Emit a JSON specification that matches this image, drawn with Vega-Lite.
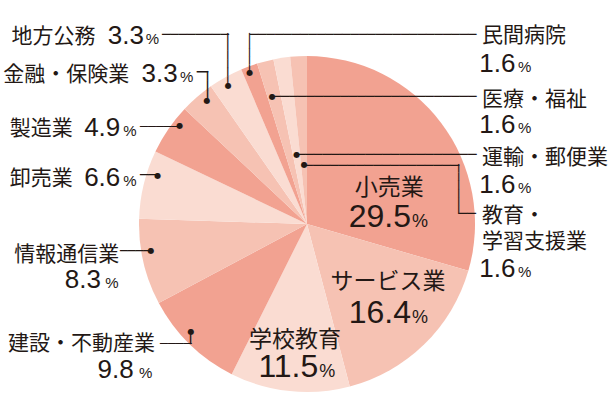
{
"$schema": "https://vega.github.io/schema/vega-lite/v6.json",
"width": 336, "height": 336,
"autosize": {"type": "none"},
"padding": {"left": 139, "top": 56, "right": 140, "bottom": 5},
"background": "white",
"config": {"view": {"stroke": null}, "text": {"color": "#231815"}},
"data": {"values": [
{"i": 1, "name": "小売業", "share": 29.5},
{"i": 2, "name": "サービス業", "share": 16.4},
{"i": 3, "name": "学校教育", "share": 11.5},
{"i": 4, "name": "建設・不動産業", "share": 9.8},
{"i": 5, "name": "情報通信業", "share": 8.3},
{"i": 6, "name": "卸売業", "share": 6.6},
{"i": 7, "name": "製造業", "share": 4.9},
{"i": 8, "name": "金融・保険業", "share": 3.3},
{"i": 9, "name": "地方公務", "share": 3.3},
{"i": 10, "name": "民間病院", "share": 1.6},
{"i": 11, "name": "医療・福祉", "share": 1.6},
{"i": 12, "name": "運輸・郵便業", "share": 1.6},
{"i": 13, "name": "教育・\n学習支援業", "share": 1.6}
]},
"encoding": {
"theta": {"field": "share", "type": "quantitative", "stack": true},
"order": {"field": "i", "type": "quantitative"}
},
"layer": [
{"mark": {"type": "arc", "outerRadius": 168}, "encoding": {"color": {"field": "name", "type": "nominal", "legend": null, "scale": {"domain": ["小売業","サービス業","学校教育","建設・不動産業","情報通信業","卸売業","製造業","金融・保険業","地方公務","民間病院","医療・福祉","運輸・郵便業","教育・\n学習支援業"], "range": ["#F2A291","#F6C2B3","#FADCD2","#F2A291","#F6C2B3","#FADCD2","#F2A291","#F6C2B3","#FADCD2","#F2A291","#F6C2B3","#FADCD2","#F6C2B3"]}}}},

{"mark": {"type": "text", "radius": 100, "dx": 2.23, "dy": 31.24, "align": "center", "baseline": "alphabetic", "font": "Noto Sans CJK JP", "fontSize": 23}, "encoding": {"text": {"condition": {"test": "datum.i == 1", "field": "name", "type": "nominal"}, "value": ""}}},
{"mark": {"type": "text", "radius": 100, "dx": 11.08, "dy": -7.09, "align": "center", "baseline": "alphabetic", "font": "Noto Sans CJK JP", "fontSize": 23}, "encoding": {"text": {"condition": {"test": "datum.i == 2", "field": "name", "type": "nominal"}, "value": ""}}},
{"mark": {"type": "text", "radius": 100, "dx": -1.65, "dy": 23.34, "align": "center", "baseline": "alphabetic", "font": "Noto Sans CJK JP", "fontSize": 23}, "encoding": {"text": {"condition": {"test": "datum.i == 3", "field": "name", "type": "nominal"}, "value": ""}}},
{"mark": {"type": "text", "radius": 100, "dx": 24.03, "dy": 63.34, "align": "right", "baseline": "alphabetic", "font": "Liberation Sans", "fontSize": 32}, "encoding": {"text": {"condition": {"test": "datum.i == 1", "field": "share", "type": "quantitative", "format": ".1f"}, "value": ""}}},
{"mark": {"type": "text", "radius": 100, "dx": 34.18, "dy": 27.71, "align": "right", "baseline": "alphabetic", "font": "Liberation Sans", "fontSize": 32}, "encoding": {"text": {"condition": {"test": "datum.i == 2", "field": "share", "type": "quantitative", "format": ".1f"}, "value": ""}}},
{"mark": {"type": "text", "radius": 100, "dx": 21.65, "dy": 53.24, "align": "right", "baseline": "alphabetic", "font": "Liberation Sans", "fontSize": 32}, "encoding": {"text": {"condition": {"test": "datum.i == 3", "field": "share", "type": "quantitative", "format": ".1f"}, "value": ""}}},
{"mark": {"type": "text", "radius": 100, "dx": 25.03, "dy": 63.34, "align": "left", "baseline": "alphabetic", "font": "Liberation Sans", "fontSize": 18}, "encoding": {"text": {"condition": {"test": "datum.i == 1", "value": "%"}, "value": ""}}},
{"mark": {"type": "text", "radius": 100, "dx": 35.18, "dy": 27.71, "align": "left", "baseline": "alphabetic", "font": "Liberation Sans", "fontSize": 18}, "encoding": {"text": {"condition": {"test": "datum.i == 2", "value": "%"}, "value": ""}}},
{"mark": {"type": "text", "radius": 100, "dx": 22.65, "dy": 53.24, "align": "left", "baseline": "alphabetic", "font": "Liberation Sans", "fontSize": 18}, "encoding": {"text": {"condition": {"test": "datum.i == 3", "value": "%"}, "value": ""}}},

{"mark": {"type": "text", "radius": 158, "dx": -41.69, "dy": 13.09, "align": "right", "baseline": "alphabetic", "font": "Noto Sans CJK JP", "fontSize": 21}, "encoding": {"text": {"condition": {"test": "datum.i == 4", "field": "name", "type": "nominal"}, "value": ""}}},
{"mark": {"type": "text", "radius": 158, "dx": -33.84, "dy": 1.29, "align": "right", "baseline": "alphabetic", "font": "Noto Sans CJK JP", "fontSize": 21}, "encoding": {"text": {"condition": {"test": "datum.i == 5", "field": "name", "type": "nominal"}, "value": ""}}},
{"mark": {"type": "text", "radius": 158, "dx": -80.79, "dy": -2.13, "align": "right", "baseline": "alphabetic", "font": "Noto Sans CJK JP", "fontSize": 21}, "encoding": {"text": {"condition": {"test": "datum.i == 6", "field": "name", "type": "nominal"}, "value": ""}}},
{"mark": {"type": "text", "radius": 158, "dx": -103.89, "dy": 0.41, "align": "right", "baseline": "alphabetic", "font": "Noto Sans CJK JP", "fontSize": 21}, "encoding": {"text": {"condition": {"test": "datum.i == 7", "field": "name", "type": "nominal"}, "value": ""}}},
{"mark": {"type": "text", "radius": 158, "dx": -74.34, "dy": -24.0, "align": "right", "baseline": "alphabetic", "font": "Noto Sans CJK JP", "fontSize": 21}, "encoding": {"text": {"condition": {"test": "datum.i == 8", "field": "name", "type": "nominal"}, "value": ""}}},
{"mark": {"type": "text", "radius": 158, "dx": -134.95, "dy": -42.98, "align": "right", "baseline": "alphabetic", "font": "Noto Sans CJK JP", "fontSize": 21}, "encoding": {"text": {"condition": {"test": "datum.i == 9", "field": "name", "type": "nominal"}, "value": ""}}},
{"mark": {"type": "text", "radius": 158, "dx": 229.45, "dy": -33.19, "align": "left", "baseline": "alphabetic", "font": "Noto Sans CJK JP", "fontSize": 21}, "encoding": {"text": {"condition": {"test": "datum.i == 10", "field": "name", "type": "nominal"}, "value": ""}}},
{"mark": {"type": "text", "radius": 132, "dx": 207.83, "dy": 9.66, "align": "left", "baseline": "alphabetic", "font": "Noto Sans CJK JP", "fontSize": 21}, "encoding": {"text": {"condition": {"test": "datum.i == 11", "field": "name", "type": "nominal"}, "value": ""}}},
{"mark": {"type": "text", "radius": 70, "dx": 185.51, "dy": 8.71, "align": "left", "baseline": "alphabetic", "font": "Noto Sans CJK JP", "fontSize": 21}, "encoding": {"text": {"condition": {"test": "datum.i == 12", "field": "name", "type": "nominal"}, "value": ""}}},
{"mark": {"type": "text", "radius": 60, "dx": 178.01, "dy": 58.42, "align": "left", "baseline": "alphabetic", "font": "Noto Sans CJK JP", "fontSize": 21, "lineBreak": "\n", "lineHeight": 26}, "encoding": {"text": {"condition": {"test": "datum.i == 13", "field": "name", "type": "nominal"}, "value": ""}}},

{"mark": {"type": "text", "radius": 158, "dx": -62.99, "dy": 41.19, "align": "right", "baseline": "alphabetic", "font": "Liberation Sans", "fontSize": 26}, "encoding": {"text": {"condition": {"test": "datum.i == 4", "field": "share", "type": "quantitative", "format": ".1f"}, "value": ""}}},
{"mark": {"type": "text", "radius": 158, "dx": -52.14, "dy": 28.39, "align": "right", "baseline": "alphabetic", "font": "Liberation Sans", "fontSize": 26}, "encoding": {"text": {"condition": {"test": "datum.i == 5", "field": "share", "type": "quantitative", "format": ".1f"}, "value": ""}}},
{"mark": {"type": "text", "radius": 158, "dx": -33.19, "dy": -0.93, "align": "right", "baseline": "alphabetic", "font": "Liberation Sans", "fontSize": 26}, "encoding": {"text": {"condition": {"test": "datum.i == 6", "field": "share", "type": "quantitative", "format": ".1f"}, "value": ""}}},
{"mark": {"type": "text", "radius": 158, "dx": -56.29, "dy": 1.21, "align": "right", "baseline": "alphabetic", "font": "Liberation Sans", "fontSize": 26}, "encoding": {"text": {"condition": {"test": "datum.i == 7", "field": "share", "type": "quantitative", "format": ".1f"}, "value": ""}}},
{"mark": {"type": "text", "radius": 158, "dx": -25.94, "dy": -22.5, "align": "right", "baseline": "alphabetic", "font": "Liberation Sans", "fontSize": 26}, "encoding": {"text": {"condition": {"test": "datum.i == 8", "field": "share", "type": "quantitative", "format": ".1f"}, "value": ""}}},
{"mark": {"type": "text", "radius": 158, "dx": -86.45, "dy": -41.78, "align": "right", "baseline": "alphabetic", "font": "Liberation Sans", "fontSize": 26}, "encoding": {"text": {"condition": {"test": "datum.i == 9", "field": "share", "type": "quantitative", "format": ".1f"}, "value": ""}}},
{"mark": {"type": "text", "radius": 158, "dx": 226.65, "dy": -3.99, "align": "left", "baseline": "alphabetic", "font": "Liberation Sans", "fontSize": 26}, "encoding": {"text": {"condition": {"test": "datum.i == 10", "field": "share", "type": "quantitative", "format": ".1f"}, "value": ""}}},
{"mark": {"type": "text", "radius": 132, "dx": 205.03, "dy": 37.16, "align": "left", "baseline": "alphabetic", "font": "Liberation Sans", "fontSize": 26}, "encoding": {"text": {"condition": {"test": "datum.i == 11", "field": "share", "type": "quantitative", "format": ".1f"}, "value": ""}}},
{"mark": {"type": "text", "radius": 70, "dx": 182.71, "dy": 37.91, "align": "left", "baseline": "alphabetic", "font": "Liberation Sans", "fontSize": 26}, "encoding": {"text": {"condition": {"test": "datum.i == 12", "field": "share", "type": "quantitative", "format": ".1f"}, "value": ""}}},
{"mark": {"type": "text", "radius": 60, "dx": 175.21, "dy": 112.62, "align": "left", "baseline": "alphabetic", "font": "Liberation Sans", "fontSize": 26}, "encoding": {"text": {"condition": {"test": "datum.i == 13", "field": "share", "type": "quantitative", "format": ".1f"}, "value": ""}}},

{"mark": {"type": "text", "radius": 158, "dx": -44.29, "dy": 41.19, "align": "right", "baseline": "alphabetic", "font": "Liberation Sans", "fontSize": 15}, "encoding": {"text": {"condition": {"test": "datum.i == 4", "value": "%"}, "value": ""}}},
{"mark": {"type": "text", "radius": 158, "dx": -34.44, "dy": 28.39, "align": "right", "baseline": "alphabetic", "font": "Liberation Sans", "fontSize": 15}, "encoding": {"text": {"condition": {"test": "datum.i == 5", "value": "%"}, "value": ""}}},
{"mark": {"type": "text", "radius": 158, "dx": -16.79, "dy": -0.93, "align": "right", "baseline": "alphabetic", "font": "Liberation Sans", "fontSize": 15}, "encoding": {"text": {"condition": {"test": "datum.i == 6", "value": "%"}, "value": ""}}},
{"mark": {"type": "text", "radius": 158, "dx": -39.89, "dy": 1.21, "align": "right", "baseline": "alphabetic", "font": "Liberation Sans", "fontSize": 15}, "encoding": {"text": {"condition": {"test": "datum.i == 7", "value": "%"}, "value": ""}}},
{"mark": {"type": "text", "radius": 158, "dx": -10.24, "dy": -22.5, "align": "right", "baseline": "alphabetic", "font": "Liberation Sans", "fontSize": 15}, "encoding": {"text": {"condition": {"test": "datum.i == 8", "value": "%"}, "value": ""}}},
{"mark": {"type": "text", "radius": 158, "dx": -71.45, "dy": -41.98, "align": "right", "baseline": "alphabetic", "font": "Liberation Sans", "fontSize": 15}, "encoding": {"text": {"condition": {"test": "datum.i == 9", "value": "%"}, "value": ""}}},
{"mark": {"type": "text", "radius": 158, "dx": 265.45, "dy": -3.99, "align": "left", "baseline": "alphabetic", "font": "Liberation Sans", "fontSize": 15}, "encoding": {"text": {"condition": {"test": "datum.i == 10", "value": "%"}, "value": ""}}},
{"mark": {"type": "text", "radius": 132, "dx": 243.83, "dy": 37.16, "align": "left", "baseline": "alphabetic", "font": "Liberation Sans", "fontSize": 15}, "encoding": {"text": {"condition": {"test": "datum.i == 11", "value": "%"}, "value": ""}}},
{"mark": {"type": "text", "radius": 70, "dx": 221.51, "dy": 37.91, "align": "left", "baseline": "alphabetic", "font": "Liberation Sans", "fontSize": 15}, "encoding": {"text": {"condition": {"test": "datum.i == 12", "value": "%"}, "value": ""}}},
{"mark": {"type": "text", "radius": 60, "dx": 214.01, "dy": 112.62, "align": "left", "baseline": "alphabetic", "font": "Liberation Sans", "fontSize": 15}, "encoding": {"text": {"condition": {"test": "datum.i == 13", "value": "%"}, "value": ""}}},

{"mark": {"type": "text", "radius": 158, "dx": -68.45, "dy": -51.27, "align": "left", "baseline": "middle", "font": "DejaVu Sans Mono", "fontSize": 13.89}, "encoding": {"text": {"condition": {"test": "datum.i == 9", "value": "────────"}, "value": ""}}},
{"mark": {"type": "text", "radius": 158, "angle": 90, "dx": -52.68, "dy": 3.15, "align": "left", "baseline": "middle", "font": "DejaVu Sans Mono", "fontSize": 14.45}, "encoding": {"text": {"condition": {"test": "datum.i == 9", "value": "──────"}, "value": ""}}},
{"mark": {"type": "text", "radius": 158, "dx": -6.94, "dy": -32.36, "align": "left", "baseline": "middle", "font": "DejaVu Sans Mono", "fontSize": 18.6}, "encoding": {"text": {"condition": {"test": "datum.i == 8", "value": "─"}, "value": ""}}},
{"mark": {"type": "text", "radius": 158, "angle": 90, "dx": -33.4, "dy": -3.12, "align": "left", "baseline": "middle", "font": "DejaVu Sans Mono", "fontSize": 16}, "encoding": {"text": {"condition": {"test": "datum.i == 8", "value": "───"}, "value": ""}}},
{"mark": {"type": "text", "radius": 158, "dx": -36.59, "dy": -8.23, "align": "left", "baseline": "middle", "font": "DejaVu Sans Mono", "fontSize": 13.19}, "encoding": {"text": {"condition": {"test": "datum.i == 7", "value": "─────"}, "value": ""}}},
{"mark": {"type": "text", "radius": 158, "dx": -13.49, "dy": -10.24, "align": "left", "baseline": "middle", "font": "DejaVu Sans Mono", "fontSize": 14.7}, "encoding": {"text": {"condition": {"test": "datum.i == 6", "value": "──"}, "value": ""}}},
{"mark": {"type": "text", "radius": 158, "dx": -33.14, "dy": -9.16, "align": "left", "baseline": "middle", "font": "DejaVu Sans Mono", "fontSize": 12.87}, "encoding": {"text": {"condition": {"test": "datum.i == 5", "value": "────"}, "value": ""}}},
{"mark": {"type": "text", "radius": 158, "dx": -36.69, "dy": 6.73, "align": "left", "baseline": "middle", "font": "DejaVu Sans Mono", "fontSize": 13.12}, "encoding": {"text": {"condition": {"test": "datum.i == 4", "value": "────"}, "value": ""}}},
{"mark": {"type": "text", "radius": 158, "angle": 90, "dx": -2.81, "dy": 6.23, "align": "left", "baseline": "middle", "font": "DejaVu Sans Mono", "fontSize": 16}, "encoding": {"text": {"condition": {"test": "datum.i == 4", "value": "─"}, "value": ""}}},
{"mark": {"type": "text", "radius": 158, "angle": 90, "dx": -42.59, "dy": 3.35, "align": "left", "baseline": "middle", "font": "DejaVu Sans Mono", "fontSize": 13.02}, "encoding": {"text": {"condition": {"test": "datum.i == 10", "value": "─────"}, "value": ""}}},
{"mark": {"type": "text", "radius": 158, "dx": -2.85, "dy": -41.16, "align": "left", "baseline": "middle", "font": "DejaVu Sans Mono", "fontSize": 13.965}, "encoding": {"text": {"condition": {"test": "datum.i == 10", "value": "───────────────────────────"}, "value": ""}}},
{"mark": {"type": "text", "radius": 132, "dx": -1.87, "dy": 1.15, "align": "left", "baseline": "middle", "font": "DejaVu Sans Mono", "fontSize": 14.147}, "encoding": {"text": {"condition": {"test": "datum.i == 11", "value": "────────────────────────"}, "value": ""}}},
{"mark": {"type": "text", "radius": 70, "dx": 0.21, "dy": 0.44, "align": "left", "baseline": "middle", "font": "DejaVu Sans Mono", "fontSize": 14.238}, "encoding": {"text": {"condition": {"test": "datum.i == 12", "value": "─────────────────────"}, "value": ""}}},
{"mark": {"type": "text", "radius": 60, "dx": 0.31, "dy": 1.57, "align": "left", "baseline": "middle", "font": "DejaVu Sans Mono", "fontSize": 14.3}, "encoding": {"text": {"condition": {"test": "datum.i == 13", "value": "──────────────────"}, "value": ""}}},
{"mark": {"type": "text", "radius": 60, "angle": 90, "dx": 0.02, "dy": -153.94, "align": "left", "baseline": "middle", "font": "DejaVu Sans Mono", "fontSize": 13.79}, "encoding": {"text": {"condition": {"test": "datum.i == 13", "value": "──────"}, "value": ""}}},
{"mark": {"type": "text", "radius": 60, "dx": 154.71, "dy": 50.19, "align": "left", "baseline": "middle", "font": "DejaVu Sans Mono", "fontSize": 14.37}, "encoding": {"text": {"condition": {"test": "datum.i == 13", "value": "──"}, "value": ""}}},

{"mark": {"type": "text", "radius": 158, "dx": -5.69, "dy": -5.61, "align": "center", "baseline": "middle", "font": "DejaVu Sans", "fontSize": 8}, "encoding": {"text": {"condition": {"test": "datum.i == 4", "value": "●"}, "value": ""}}},
{"mark": {"type": "text", "radius": 158, "dx": -2.14, "dy": -8.71, "align": "center", "baseline": "middle", "font": "DejaVu Sans", "fontSize": 8}, "encoding": {"text": {"condition": {"test": "datum.i == 5", "value": "●"}, "value": ""}}},
{"mark": {"type": "text", "radius": 158, "dx": 4.21, "dy": -10.83, "align": "center", "baseline": "middle", "font": "DejaVu Sans", "fontSize": 8}, "encoding": {"text": {"condition": {"test": "datum.i == 6", "value": "●"}, "value": ""}}},
{"mark": {"type": "text", "radius": 158, "dx": 3.11, "dy": -8.29, "align": "center", "baseline": "middle", "font": "DejaVu Sans", "fontSize": 8}, "encoding": {"text": {"condition": {"test": "datum.i == 7", "value": "●"}, "value": ""}}},
{"mark": {"type": "text", "radius": 158, "dx": 3.36, "dy": -4.0, "align": "center", "baseline": "middle", "font": "DejaVu Sans", "fontSize": 8}, "encoding": {"text": {"condition": {"test": "datum.i == 8", "value": "●"}, "value": ""}}},
{"mark": {"type": "text", "radius": 158, "dx": -2.15, "dy": 0.02, "align": "center", "baseline": "middle", "font": "DejaVu Sans", "fontSize": 8}, "encoding": {"text": {"condition": {"test": "datum.i == 9", "value": "●"}, "value": ""}}},
{"mark": {"type": "text", "radius": 158, "dx": -2.85, "dy": -2.89, "align": "center", "baseline": "middle", "font": "DejaVu Sans", "fontSize": 8}, "encoding": {"text": {"condition": {"test": "datum.i == 10", "value": "●"}, "value": ""}}},
{"mark": {"type": "text", "radius": 132, "dx": -1.87, "dy": 0.76, "align": "center", "baseline": "middle", "font": "DejaVu Sans", "fontSize": 8}, "encoding": {"text": {"condition": {"test": "datum.i == 11", "value": "●"}, "value": ""}}},
{"mark": {"type": "text", "radius": 70, "dx": 0.21, "dy": 0.01, "align": "center", "baseline": "middle", "font": "DejaVu Sans", "fontSize": 8}, "encoding": {"text": {"condition": {"test": "datum.i == 12", "value": "●"}, "value": ""}}},
{"mark": {"type": "text", "radius": 60, "dx": 0.31, "dy": 1.12, "align": "center", "baseline": "middle", "font": "DejaVu Sans", "fontSize": 8}, "encoding": {"text": {"condition": {"test": "datum.i == 13", "value": "●"}, "value": ""}}}
]
}
